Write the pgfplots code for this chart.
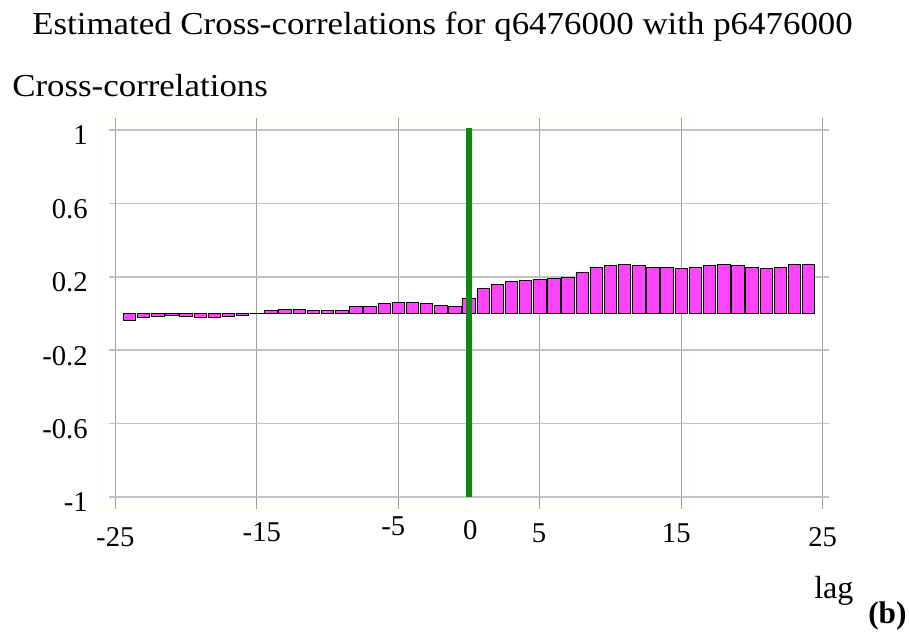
\documentclass[border=0pt]{standalone}
\usepackage{fontspec}
\setmainfont{Liberation Serif}
\usepackage{pgfplots}
\pgfplotsset{compat=1.18}
\definecolor{barfill}{RGB}{255,68,255}
\definecolor{zgreen}{RGB}{17,136,17}
\definecolor{hgrid}{RGB}{195,195,195}
\definecolor{vgrid}{RGB}{160,160,160}
\definecolor{faint}{RGB}{255,255,232}
\newcommand\xl[3]{\raisebox{#2}[0pt][0pt]{\makebox[0pt][c]{\hspace*{#1}#3}}}
\begin{document}
\begin{tikzpicture}
\path[use as bounding box] (-86.5pt,-100.5pt) rectangle (595.25pt,372.75pt);
\draw[faint, line width=0.75pt] (-13.7pt,-9pt) rectangle (433.3pt,283.5pt);
\begin{axis}[
  scale only axis, width=530.55pt, height=275.25pt,
  xmin=-25, xmax=25, ymin=-1, ymax=1,
  axis line style={draw=none},
  xtick={-25,-15,-5,5,15,25},
  xticklabels={\xl{0pt}{-28pt}{-25},\xl{7.5pt}{-24pt}{-15},\xl{-7.5pt}{-20pt}{-5},\xl{-1pt}{-25pt}{5},\xl{-7.5pt}{-25pt}{15},\xl{0pt}{-28pt}{25}},
  extra x ticks={0},
  extra x tick labels={\xl{2pt}{-32.25pt}{0}},
  extra x tick style={grid=none, major tick length=0pt},
  ytick={-1,-0.6,-0.2,0.2,0.6,1},
  yticklabels={-1,-0.6,-0.2,0.2,0.6,1},
  grid=major,
  tick align=center, major tick length=9pt,
  x grid style={vgrid, line width=0.9pt},
  y grid style={hgrid, line width=1.2pt},
  xtick style={vgrid, line width=0.9pt},
  ytick style={hgrid, line width=1.2pt},
  ticklabel style={font=\fontsize{21.5}{24}\selectfont, inner sep=0pt},
  xticklabel style={anchor=base},
  yticklabel style={anchor=base east, xshift=-16pt, yshift=-11.25pt},
  ybar, bar width=0.88,
  clip=false,
]
\addplot[fill=barfill, draw=black, line width=0.6pt] table[x=lag, y=r] {
lag r
-24 -0.038
-23 -0.020
-22 -0.015
-21 -0.010
-20 -0.015
-19 -0.020
-18 -0.020
-17 -0.015
-16 -0.010
-15 -0.002
-14 0.016
-13 0.022
-12 0.022
-11 0.016
-10 0.016
-9 0.016
-8 0.038
-7 0.038
-6 0.053
-5 0.060
-4 0.060
-3 0.053
-2 0.044
-1 0.038
0 0.082
1 0.135
2 0.158
3 0.173
4 0.179
5 0.184
6 0.190
7 0.197
8 0.222
9 0.251
10 0.260
11 0.266
12 0.260
13 0.251
14 0.251
15 0.244
16 0.251
17 0.260
18 0.266
19 0.260
20 0.251
21 0.244
22 0.251
23 0.266
24 0.266
};
\addplot[sharp plot, zgreen, line width=4.5pt, mark=none] coordinates {(0,-1) (0,1.01)};
\end{axis}
\node[anchor=base west, inner sep=0pt] at (-62.5pt,346.5pt) {\scalebox{1.09}[1]{\fontsize{24}{28}\selectfont Estimated Cross-correlations for q6476000 with p6476000}};
\node[anchor=base west, inner sep=0pt] at (-77.5pt,300pt) {\scalebox{1.09}[1]{\fontsize{24}{28}\selectfont Cross-correlations}};
\node[anchor=base west, inner sep=0pt] at (524pt,-75.75pt) {\fontsize{24}{28}\selectfont lag};
\node[anchor=base west, inner sep=0pt] at (564.5pt,-94.5pt) {\fontsize{23.5}{28}\selectfont\bfseries (b)};
\end{tikzpicture}
\end{document}
